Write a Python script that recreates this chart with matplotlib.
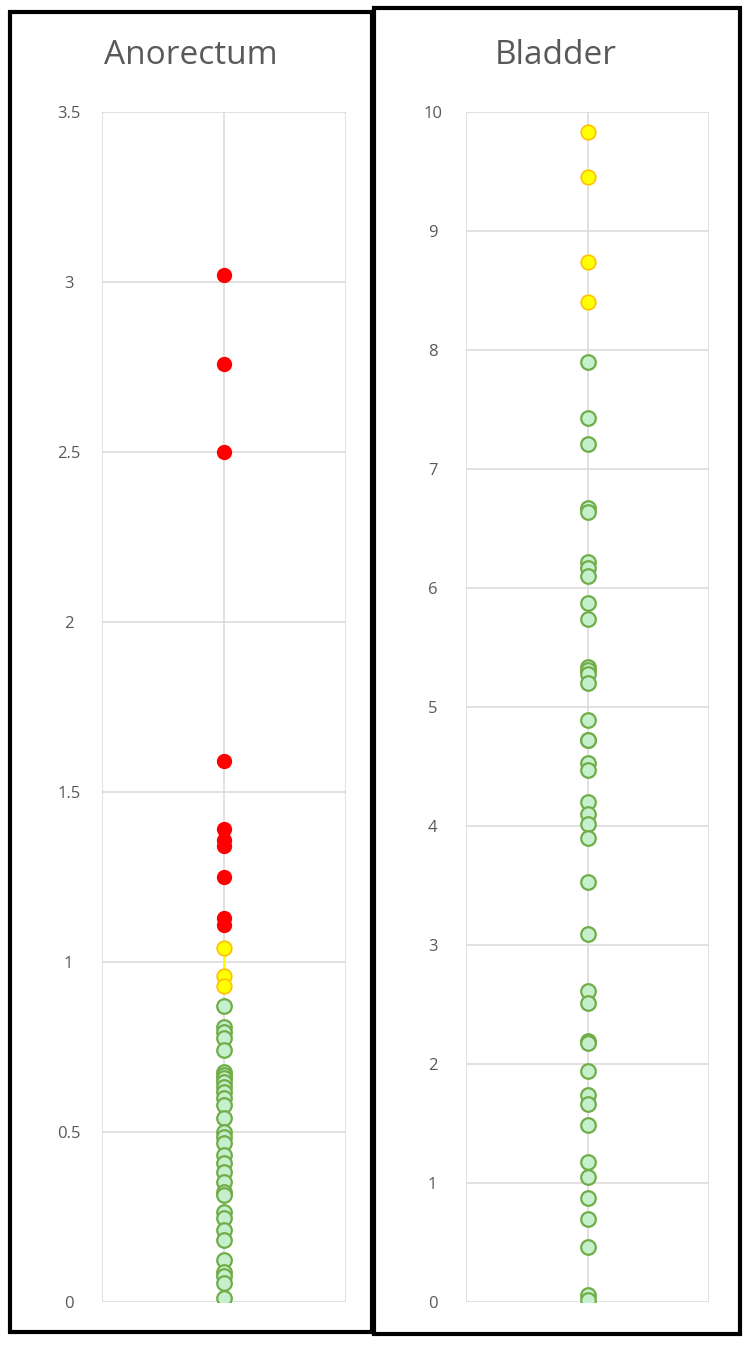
import matplotlib.pyplot as plt
import matplotlib.patches as patches

plt.rcParams['font.family'] = ['Open Sans', 'DejaVu Sans']

# Anorectum values
ano_red = [3.02, 2.76, 2.50, 1.59, 1.39, 1.36, 1.34, 1.25, 1.13, 1.11]
ano_yellow = [1.04, 0.96, 0.93]
ano_green = [0.87, 0.81, 0.795, 0.776, 0.741, 0.677, 0.667, 0.658, 0.648, 0.633,
             0.619, 0.60, 0.58, 0.54, 0.50, 0.486, 0.469, 0.432, 0.408, 0.383,
             0.354, 0.324, 0.315, 0.266, 0.246, 0.212, 0.182, 0.124, 0.089,
             0.076, 0.055, 0.012]

# Bladder values
bla_yellow = [9.83, 9.45, 8.74, 8.40]
bla_green = [7.90, 7.43, 7.21, 6.67, 6.64, 6.22, 6.17, 6.10, 5.87, 5.74, 5.34,
             5.31, 5.28, 5.20, 4.89, 4.72, 4.72, 4.53, 4.47, 4.20, 4.10, 4.02,
             3.90, 3.53, 3.09, 2.61, 2.51, 2.19, 2.18, 1.94, 1.74, 1.66, 1.49,
             1.18, 1.05, 0.87, 0.70, 0.46, 0.06, 0.02]

ano_ticks = [0, 0.5, 1, 1.5, 2, 2.5, 3, 3.5]
ano_labels = ['0', '0.5', '1', '1.5', '2', '2.5', '3', '3.5']
bla_ticks = list(range(0, 11))

W, H = 750, 1346
fig = plt.figure(figsize=(W / 100, H / 100), dpi=100)

green = dict(marker='o', ms=10.5, mfc='#c6efce', mec='#70ad47', mew=1.6, ls='none')
yellow = dict(marker='o', ms=10.5, mfc='#ffff00', mec='#ffc000', mew=1.2)
red = dict(marker='o', ms=10, mfc='#ff0000', mec='#ff0000', mew=1, ls='none')


def setup(ax, ticks, labels, top):
    ax.set_xlim(0, 2)
    ax.set_ylim(0, top)
    ax.set_xticks([0, 1, 2])
    ax.set_xticklabels([])
    ax.set_yticks(ticks)
    ax.set_yticklabels(labels, ha='center')
    ax.tick_params(axis='both', length=0, labelsize=12, colors='#595959')
    ax.tick_params(axis='y', pad=24)
    ax.grid(True, color='#d9d9d9', lw=1.1)
    ax.set_axisbelow(True)
    for s in ax.spines.values():
        s.set_visible(False)


def px(x0, y0, x1, y1):
    return [x0 / W, 1 - y1 / H, (x1 - x0) / W, (y1 - y0) / H]


ax1 = fig.add_axes(px(102, 112, 346, 1302))
setup(ax1, ano_ticks, ano_labels, 3.5)
ax1.plot([1] * len(ano_green), ano_green, **green)
ax1.plot([1] * len(ano_yellow), ano_yellow, color='#ffff00', lw=2, **yellow)
ax1.plot([1] * len(ano_red), ano_red, **red)

ax2 = fig.add_axes(px(466, 112, 709, 1302))
setup(ax2, bla_ticks, [str(t) for t in bla_ticks], 10)
ax2.plot([1] * len(bla_green), bla_green, **green)
ax2.plot([1] * len(bla_yellow), bla_yellow, ls='none', **yellow)

fig.text(191 / W, 1 - 55 / H, 'Anorectum', ha='center', va='center',
         fontsize=24, color='#595959')
fig.text(556 / W, 1 - 55 / H, 'Bladder', ha='center', va='center',
         fontsize=24, color='#595959')

# panel frames
for x0, y0, x1, y1 in [(10, 12, 372, 1332), (374, 8, 740, 1334)]:
    fig.patches.append(patches.Rectangle((x0 / W, 1 - y1 / H), (x1 - x0) / W,
                                         (y1 - y0) / H, transform=fig.transFigure,
                                         fill=False, ec='black', lw=3))

fig.savefig('out.png', dpi=100)
